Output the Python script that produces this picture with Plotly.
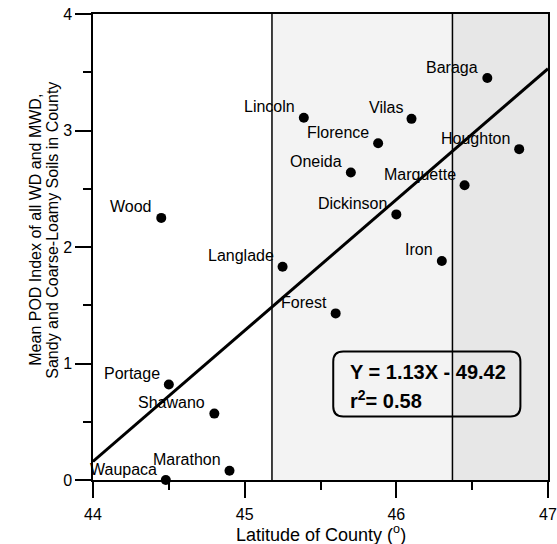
import plotly.graph_objects as go

counties = ["Waupaca", "Marathon", "Shawano", "Portage", "Wood", "Langlade", "Lincoln",
            "Vilas", "Florence", "Oneida", "Dickinson", "Iron", "Baraga", "Houghton",
            "Marquette", "Forest"]
latitude = [44.48, 44.90, 44.80, 44.50, 44.45, 45.25, 45.39,
            46.10, 45.88, 45.70, 46.00, 46.30, 46.60, 46.81,
            46.45, 45.60]
pod_index = [0.00, 0.08, 0.57, 0.82, 2.25, 1.83, 3.11,
             3.10, 2.89, 2.64, 2.28, 1.88, 3.45, 2.84,
             2.53, 1.43]
fit_x = [44.0, 47.0]
fit_y = [0.16, 3.53]
zone_bounds = [45.18, 46.37, 47.0]
x_ticks = [44, 45, 46, 47]
y_ticks = [0, 1, 2, 3, 4]

FONT = "Liberation Sans, Arial, sans-serif"

fig = go.Figure()

fig.add_trace(go.Scatter(x=fit_x, y=fit_y, mode="lines",
                         line=dict(color="black", width=3), hoverinfo="skip",
                         showlegend=False))
fig.add_trace(go.Scatter(x=latitude, y=pod_index, mode="markers",
                         marker=dict(color="black", size=10), cliponaxis=False,
                         showlegend=False))

shapes = [
    dict(type="rect", xref="x", yref="y", x0=zone_bounds[0], x1=zone_bounds[1], y0=0, y1=4,
         fillcolor="#f3f3f3", line=dict(width=0), layer="below"),
    dict(type="rect", xref="x", yref="y", x0=zone_bounds[1], x1=zone_bounds[2], y0=0, y1=4,
         fillcolor="#e7e7e7", line=dict(width=0), layer="below"),
    dict(type="line", xref="x", yref="y", x0=zone_bounds[0], x1=zone_bounds[0], y0=0, y1=4,
         line=dict(color="black", width=1.5)),
    dict(type="line", xref="x", yref="y", x0=zone_bounds[1], x1=zone_bounds[1], y0=0, y1=4,
         line=dict(color="black", width=1.5)),
]
x0, x1, y0, y1 = 45.584, 46.818, 0.545, 1.102
rx, ry = 0.066, 0.086
path = (f"M {x0+rx},{y1} L {x1-rx},{y1} Q {x1},{y1} {x1},{y1-ry} "
        f"L {x1},{y0+ry} Q {x1},{y0} {x1-rx},{y0} L {x0+rx},{y0} "
        f"Q {x0},{y0} {x0},{y0+ry} L {x0},{y1-ry} Q {x0},{y1} {x0+rx},{y1} Z")
shapes.append(dict(type="path", xref="x", yref="y", path=path,
                   line=dict(color="black", width=2), fillcolor="rgba(0,0,0,0)"))

annotations = []
for name, xv, yv in zip(counties, latitude, pod_index):
    annotations.append(dict(x=xv, y=yv, xref="x", yref="y", text=name, showarrow=False,
                            xanchor="right", yanchor="middle", xshift=-7, yshift=11,
                            font=dict(family=FONT, size=16, color="black")))

annotations.append(dict(x=45.683, y=0.93, xref="x", yref="y", text="<b>Y = 1.13X - 49.42</b>",
                        showarrow=False, xanchor="left", yanchor="middle",
                        font=dict(family=FONT, size=20, color="black")))
annotations.append(dict(x=45.683, y=0.69, xref="x", yref="y", text="<b>r<sup>2</sup>= 0.58</b>",
                        showarrow=False, xanchor="left", yanchor="middle",
                        font=dict(family=FONT, size=20, color="black")))

annotations.append(dict(x=(35.5 - 93) / 455, y=0.536, xref="paper", yref="paper",
                        text="Mean POD Index of all WD and MWD,", textangle=-90,
                        showarrow=False, xanchor="center", yanchor="middle",
                        font=dict(family=FONT, size=16, color="black")))
annotations.append(dict(x=(52.5 - 93) / 455, y=0.536, xref="paper", yref="paper",
                        text="Sandy and Coarse-Loamy Soils in County", textangle=-90,
                        showarrow=False, xanchor="center", yanchor="middle",
                        font=dict(family=FONT, size=16, color="black")))
annotations.append(dict(x=(321 - 93) / 455, y=(480 - 533) / 466, xref="paper", yref="paper",
                        text="Latitude of County (<sup>o</sup>)",
                        showarrow=False, xanchor="center", yanchor="middle",
                        font=dict(family=FONT, size=18, color="black")))

tick_font = dict(family=FONT, size=16, color="black")
axis_common = dict(showgrid=False, zeroline=False, showline=True, linecolor="black",
                   linewidth=1.5, mirror=True, ticks="outside", ticklen=16, tickwidth=1.5,
                   tickcolor="black", automargin=False,
                   minor=dict(ticks="outside", ticklen=8, tickwidth=1.5, tickcolor="black",
                              dtick=0.5, showgrid=False))

fig.update_layout(
    width=557, height=544,
    margin=dict(l=93, r=9, t=14, b=64),
    plot_bgcolor="white", paper_bgcolor="white",
    shapes=shapes, annotations=annotations,
    xaxis=dict(range=[44, 47], tickvals=x_ticks, ticktext=[str(v) for v in x_ticks],
               tickfont=tick_font, ticklabelstandoff=3, **axis_common),
    yaxis=dict(range=[0, 4], tickvals=y_ticks, ticktext=[str(v) for v in y_ticks],
               tickfont=tick_font, **axis_common),
    showlegend=False,
)

fig.write_html("out.html", config={"displayModeBar": False},
               post_script="document.body.style.margin='0';document.body.style.padding='0';")
